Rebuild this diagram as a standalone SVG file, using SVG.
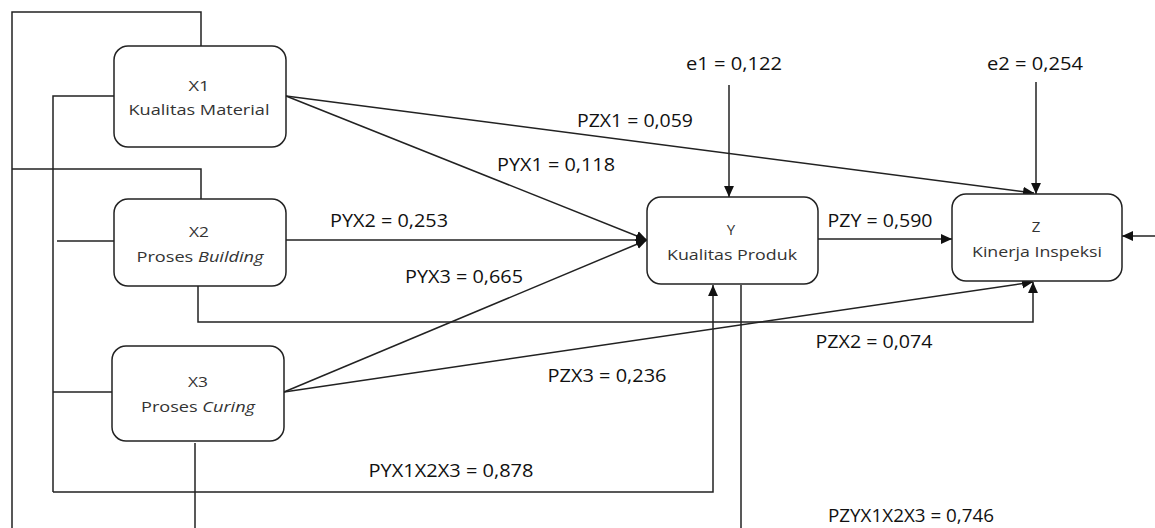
<svg xmlns="http://www.w3.org/2000/svg" width="1155" height="528" viewBox="0 0 1155 528">
  <style>
    .box { fill: #ffffff; stroke: #222222; stroke-width: 1.5; }
    .line { fill: none; stroke: #222222; stroke-width: 1.5; }
    .arrow { fill: none; stroke: #222222; stroke-width: 1.5; marker-end: url(#head); }
    .node-text { font-family: "Segoe UI", "Open Sans", "Noto Sans", sans-serif; font-size: 15px; fill: #333333; text-anchor: middle; }
    .label { font-family: "Segoe UI", "Open Sans", "Noto Sans", sans-serif; font-size: 19px; fill: #111111; text-anchor: middle; }
  </style>
  <defs>
    <marker id="head" viewBox="0 0 10 10" refX="10" refY="5" markerWidth="11" markerHeight="11" markerUnits="userSpaceOnUse" orient="auto">
      <path d="M0,0.5 L10,5 L0,9.5 Z" fill="#111111"/>
    </marker>
  </defs>
  <rect width="1155" height="528" fill="#ffffff"/>

  <!-- connectors -->
  <g id="connectors">
    <!-- left-side bracket lines -->
    <polyline class="line" points="12,528 12,12 201,12 201,46"/>
    <polyline class="line" points="12,169 201,169 201,199"/>
    <polyline class="line" points="114,96 53,96 53,492"/>
    <line class="line" x1="57" y1="241" x2="114" y2="241"/>
    <line class="line" x1="53" y1="392" x2="112" y2="392"/>
    <polyline class="arrow" points="53,492 713,492 713,285"/>
    <line class="line" x1="195" y1="443" x2="195" y2="528"/>
    <polyline class="arrow" points="198,286 198,322 1033,322 1033,282"/>
    <line class="line" x1="741" y1="285" x2="741" y2="528"/>

    <!-- direct paths -->
    <line class="arrow" x1="286" y1="96" x2="647" y2="240"/>
    <line class="arrow" x1="286" y1="96" x2="1034" y2="193"/>
    <line class="arrow" x1="286" y1="240" x2="647" y2="240"/>
    <line class="arrow" x1="284" y1="392" x2="647" y2="240"/>
    <line class="arrow" x1="284" y1="392" x2="1033" y2="282"/>
    <line class="arrow" x1="818" y1="239" x2="952" y2="239"/>

    <!-- error terms -->
    <line class="arrow" x1="729" y1="85" x2="729" y2="197"/>
    <line class="arrow" x1="1036" y1="82" x2="1036" y2="194"/>
    <line class="arrow" x1="1155" y1="236" x2="1122" y2="236"/>

    <!-- path labels -->
    <text class="label" x="734" y="70" textLength="96" lengthAdjust="spacingAndGlyphs">e1 = 0,122</text>
    <text class="label" x="1035" y="70" textLength="96" lengthAdjust="spacingAndGlyphs">e2 = 0,254</text>
    <text class="label" x="635" y="127" textLength="116" lengthAdjust="spacingAndGlyphs">PZX1 = 0,059</text>
    <text class="label" x="556" y="171" textLength="118" lengthAdjust="spacingAndGlyphs">PYX1 = 0,118</text>
    <text class="label" x="389" y="227" textLength="118" lengthAdjust="spacingAndGlyphs">PYX2 = 0,253</text>
    <text class="label" x="464" y="283" textLength="118" lengthAdjust="spacingAndGlyphs">PYX3 = 0,665</text>
    <text class="label" x="880" y="227" textLength="105" lengthAdjust="spacingAndGlyphs">PZY = 0,590</text>
    <text class="label" x="874" y="348" textLength="117" lengthAdjust="spacingAndGlyphs">PZX2 = 0,074</text>
    <text class="label" x="607" y="382" textLength="119" lengthAdjust="spacingAndGlyphs">PZX3 = 0,236</text>
    <text class="label" x="451" y="477" textLength="165" lengthAdjust="spacingAndGlyphs">PYX1X2X3 = 0,878</text>
    <text class="label" x="911" y="522" textLength="166" lengthAdjust="spacingAndGlyphs">PZYX1X2X3 = 0,746</text>
  </g>

  <!-- nodes -->
  <g id="X1">
    <rect class="box" x="114" y="46" width="172" height="101" rx="14" ry="14"/>
    <text class="node-text" x="199" y="91" textLength="21" lengthAdjust="spacingAndGlyphs">X1</text>
    <text class="node-text" x="199" y="115" textLength="141" lengthAdjust="spacingAndGlyphs">Kualitas Material</text>
  </g>
  <g id="X2">
    <rect class="box" x="114" y="199" width="172" height="87" rx="14" ry="14"/>
    <text class="node-text" x="199" y="237" textLength="20" lengthAdjust="spacingAndGlyphs">X2</text>
    <text class="node-text" x="200" y="262" textLength="127" lengthAdjust="spacingAndGlyphs">Proses <tspan font-style="italic">Building</tspan></text>
  </g>
  <g id="X3">
    <rect class="box" x="112" y="346" width="172" height="95" rx="14" ry="14"/>
    <text class="node-text" x="198" y="387" textLength="20" lengthAdjust="spacingAndGlyphs">X3</text>
    <text class="node-text" x="198" y="412" textLength="114" lengthAdjust="spacingAndGlyphs">Proses <tspan font-style="italic">Curing</tspan></text>
  </g>
  <g id="Y">
    <rect class="box" x="647" y="197" width="171" height="87" rx="14" ry="14"/>
    <text class="node-text" x="731" y="235">Y</text>
    <text class="node-text" x="732" y="260" textLength="130" lengthAdjust="spacingAndGlyphs">Kualitas Produk</text>
  </g>
  <g id="Z">
    <rect class="box" x="952" y="194" width="170" height="87" rx="14" ry="14"/>
    <text class="node-text" x="1036" y="232">Z</text>
    <text class="node-text" x="1037" y="257" textLength="130" lengthAdjust="spacingAndGlyphs">Kinerja Inspeksi</text>
  </g>
</svg>
